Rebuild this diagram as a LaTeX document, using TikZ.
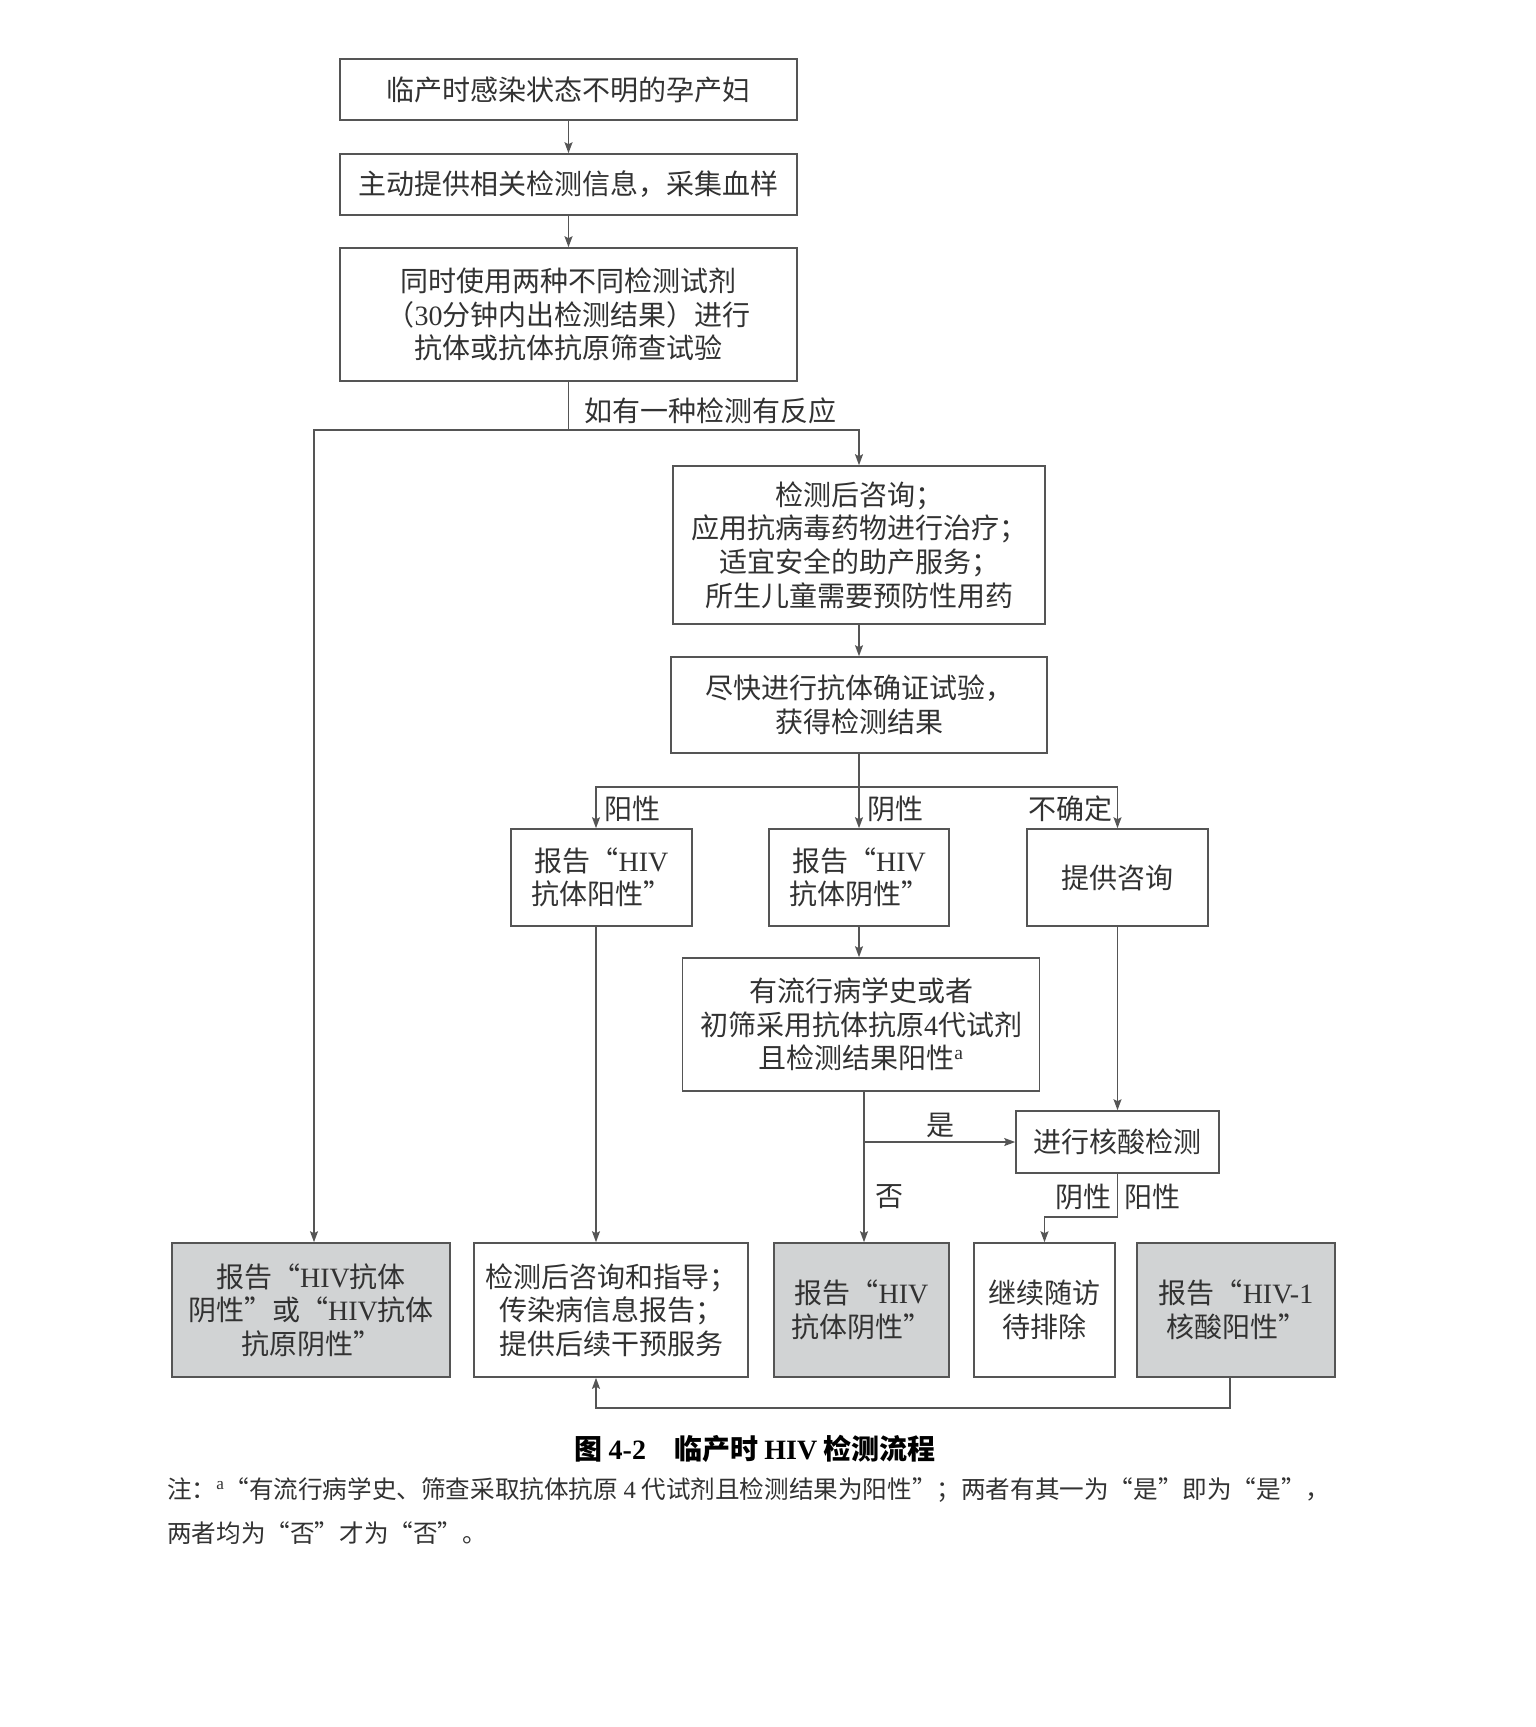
\documentclass[tikz,border=0pt]{standalone}
\usepackage{fontspec}
\setmainfont{Noto Sans CJK SC}
\newfontfamily\lat{Liberation Serif}
\usetikzlibrary{arrows.meta}

\definecolor{linegray}{RGB}{85,85,85}
\definecolor{textgray}{RGB}{50,50,50}
\definecolor{boxgray}{RGB}{209,211,212}

\newcommand\flowfont{\fontsize{28}{33.6}\selectfont}
\newcommand\notefont{\fontsize{24.6}{29.5}\selectfont}

\tikzset{
  box/.style={draw=linegray, line width=1.6pt, fill=white, text=textgray,
    align=center, inner sep=0pt, font=\flowfont},
  shaded/.style={box, fill=boxgray},
  conn/.style={draw=linegray, line width=1.5pt},
  arr/.style={conn, -{Stealth[length=11pt,width=8pt,inset=2pt]}},
  lbl/.style={text=textgray, inner sep=0pt, font=\flowfont},
}

\begin{document}
\begin{tikzpicture}[x=1pt, y=-1pt]

	\useasboundingbox (0,0) rectangle (1536,1727);

	% Cribado
	\node[box, minimum width=457pt, minimum height=61pt] (start) at (568.5,89.5) {临产时感染状态不明的孕产妇};
	\node[box, minimum width=457pt, minimum height=61pt] (info) at (568.5,184.5) {主动提供相关检测信息，采集血样};
	\node[box, minimum width=457pt, minimum height=133pt] (screen) at (568.5,314.5)
		{同时使用两种不同检测试剂\\（{\lat 30}分钟内出检测结果）进行\\抗体或抗体抗原筛查试验};

	\node[lbl, anchor=west] (react) at (584,411) {如有一种检测有反应};

	\node[box, minimum width=372pt, minimum height=158pt] (counsel) at (859,545)
		{检测后咨询；\\应用抗病毒药物进行治疗；\\适宜安全的助产服务；\\所生儿童需要预防性用药};
	\node[box, minimum width=376pt, minimum height=96pt] (confirm) at (859,705)
		{尽快进行抗体确证试验，\\获得检测结果};

	% Resultados
	\node[box, minimum width=181pt, minimum height=97pt] (abpos) at (601.5,877.5) {报告“{\lat HIV}\\抗体阳性”};
	\node[box, minimum width=180pt, minimum height=97pt] (abneg) at (859,877.5) {报告“{\lat HIV}\\抗体阴性”};
	\node[box, minimum width=181pt, minimum height=97pt] (consult) at (1117.5,877.5) {提供咨询};

	\node[lbl, anchor=west] (lpos) at (604,809) {阳性};
	\node[lbl, anchor=west] (lneg) at (867,809) {阴性};
	\node[lbl, anchor=east] (lunk) at (1113,809) {不确定};

	\node[box, minimum width=357pt, minimum height=133pt] (epi) at (861,1024.5)
		{有流行病学史或者\\初筛采用抗体抗原{\lat 4}代试剂\\且检测结果阳性\textsuperscript{\lat a}};
	\node[box, minimum width=203pt, minimum height=62pt] (nucleic) at (1117.5,1142) {进行核酸检测};

	\node[lbl] (lyes) at (940,1125) {是};
	\node[lbl] (lno) at (889,1197) {否};
	\node[lbl, anchor=east] (lnneg) at (1112,1197) {阴性};
	\node[lbl, anchor=west] (lnpos) at (1124,1197) {阳性};

	% Informes
	\node[shaded, minimum width=278pt, minimum height=134pt] (rep1) at (311,1310)
		{报告“{\lat HIV}抗体\\阴性”或“{\lat HIV}抗体\\抗原阴性”};
	\node[box, minimum width=274pt, minimum height=134pt] (guide) at (611,1310)
		{检测后咨询和指导；\\传染病信息报告；\\提供后续干预服务};
	\node[shaded, minimum width=175pt, minimum height=134pt] (rep3) at (861.5,1310) {报告“{\lat HIV}\\抗体阴性”};
	\node[box, minimum width=141pt, minimum height=134pt] (follow) at (1044.5,1310) {继续随访\\待排除};
	\node[shaded, minimum width=198pt, minimum height=134pt] (nucpos) at (1236,1310) {报告“{\lat HIV-1}\\核酸阳性”};

	% Flechas
	\draw[arr] (start) -- (info);
	\draw[arr] (info) -- (screen);
	\coordinate (fork1) at (568.5,430);
	\draw[conn] (screen) -- (fork1);
	\draw[arr] (fork1) -| (counsel);
	\draw[arr] (fork1) -| ([xshift=3pt]rep1.north);
	\draw[arr] (counsel) -- (confirm);

	\coordinate (fork2) at (859,787);
	\draw[conn] (confirm) -- (fork2);
	\draw[arr] (fork2) -| ([xshift=-5.5pt]abpos.north);
	\draw[arr] (fork2) -- (abneg);
	\draw[arr] (fork2) -| (consult);

	\draw[arr] (abneg) -- (abneg |- epi.north);
	\draw[arr] ([xshift=-5.5pt]abpos.south) -- ([xshift=-5.5pt]abpos.south |- guide.north);
	\draw[arr] (consult) -- (nucleic);

	\coordinate (nobr) at ([xshift=3pt]epi.south);
	\draw[arr] (nobr) -- (nobr |- rep3.north);
	\draw[arr] (nobr |- nucleic.west) -- (nucleic.west);

	\coordinate (nafork) at (1117.5,1217);
	\draw[arr] (nucleic) -- (nafork) -| (follow);

	\coordinate (back) at (1230,1408);
	\draw[arr] ([xshift=-6pt]nucpos.south) -- (back) -| ([xshift=-15pt]guide.south);

	% Pie
	\node[inner sep=0pt, font=\fontsize{28}{33}\selectfont\bfseries] (caption) at (755,1449)
		{图 {\lat 4-2}\hspace{1em}临产时 {\lat HIV} 检测流程};
	\node[anchor=west, inner sep=0pt, text=textgray, font=\notefont] (note1) at (167,1490)
		{注：\textsuperscript{\lat a}“有流行病学史、筛查采取抗体抗原 {\lat 4} 代试剂且检测结果为阳性”；两者有其一为“是”即为“是”，};
	\node[anchor=west, inner sep=0pt, text=textgray, font=\notefont] (note2) at (167,1533)
		{两者均为“否”才为“否”。};

\end{tikzpicture}
\end{document}
